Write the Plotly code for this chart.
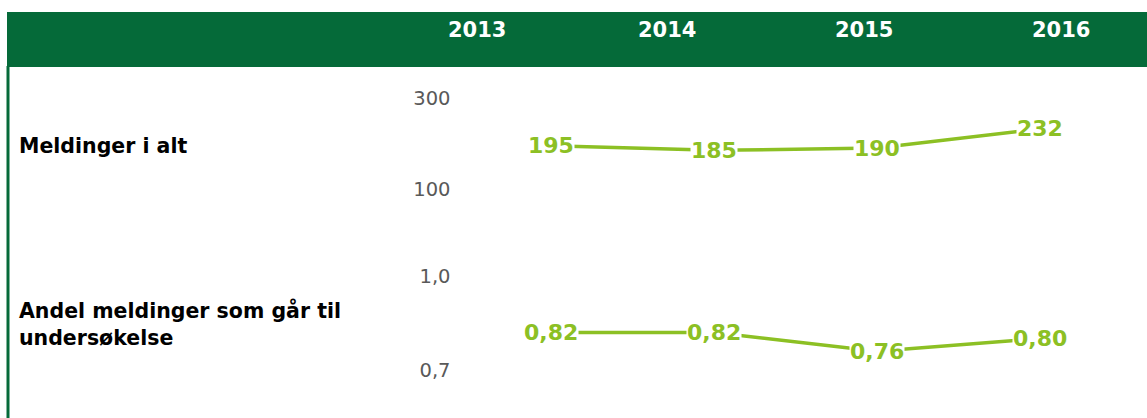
import plotly.graph_objects as go

years = ["2013", "2014", "2015", "2016"]
meldinger = [195, 185, 190, 232]
andel = [0.82, 0.82, 0.76, 0.80]
row_label_1 = ["Meldinger i alt"]
row_label_2 = ["Andel meldinger som går til", "undersøkelse"]
ticks_1 = [100, 300]
ticks_2 = [0.7, 1.0]

W, H = 1147, 418
GREEN_DARK = "#056a39"
GREEN_LINE = "#8cc024"
FONT = "DejaVu Sans"

def px_x(p):
    return p / W

def px_y(p):
    return (H - p) / H

xs = list(range(len(years)))

fig = go.Figure()
fig.add_trace(go.Scatter(x=xs, y=meldinger, mode="lines", xaxis="x", yaxis="y",
                         line=dict(color=GREEN_LINE, width=3.5), hoverinfo="skip",
                         showlegend=False))
fig.add_trace(go.Scatter(x=xs, y=andel, mode="lines", xaxis="x", yaxis="y2",
                         line=dict(color=GREEN_LINE, width=3.5), hoverinfo="skip",
                         showlegend=False))

annotations = []
for xi, v in zip(xs, meldinger):
    annotations.append(dict(x=xi, y=v, xref="x", yref="y", text=f"<b>{v}</b>",
                            showarrow=False, bgcolor="white", borderpad=0,
                            font=dict(family=FONT, size=22, color=GREEN_LINE)))
for xi, v in zip(xs, andel):
    annotations.append(dict(x=xi, y=v, xref="x", yref="y2",
                            text="<b>" + f"{v:.2f}".replace(".", ",") + "</b>",
                            showarrow=False, bgcolor="white", borderpad=0,
                            font=dict(family=FONT, size=22, color=GREEN_LINE)))

# header year labels
header_x = [477, 667, 864, 1061]
for hx, yr in zip(header_x, years):
    annotations.append(dict(x=px_x(hx), y=px_y(30), xref="paper", yref="paper",
                            text=f"<b>{yr}</b>", showarrow=False,
                            xanchor="center", yanchor="middle",
                            font=dict(family=FONT, size=21, color="white")))

# row labels
annotations.append(dict(x=px_x(17), y=px_y(146), xref="paper", yref="paper",
                        text=f"<b>{row_label_1[0]}</b>", showarrow=False,
                        xanchor="left", yanchor="middle",
                        font=dict(family=FONT, size=20.5, color="black")))
for i, line in enumerate(row_label_2):
    annotations.append(dict(x=px_x(17), y=px_y(310 + 28 * i), xref="paper", yref="paper",
                            text=f"<b>{line}</b>", showarrow=False,
                            xanchor="left", yanchor="middle",
                            font=dict(family=FONT, size=20.5, color="black")))

shapes = [
    dict(type="rect", xref="paper", yref="paper", x0=px_x(7), x1=1.0,
         y0=px_y(67), y1=px_y(12), fillcolor=GREEN_DARK, line=dict(width=0), layer="below"),
    dict(type="line", xref="paper", yref="paper", x0=px_x(8), x1=px_x(8),
         y0=0, y1=px_y(66), line=dict(color=GREEN_DARK, width=3)),
]

# x: point 0 at 551px, point 3 at 1040px -> 163 px/unit
ppu = 163.0
x0_px = 551 - 0.5 * ppu
x1_px = 551 + 3.5 * ppu

# top axis: 300 at y=98px, 100 at y=189px
top_ppu = (189 - 98) / 200.0
top_range = [50, 350]
top_top_px = 98 - (350 - 300) * top_ppu
top_bot_px = 189 + (100 - 50) * top_ppu
# bottom axis: 1.0 at 276px, 0.7 at 370px
bot_ppu = (370 - 276) / 0.3
bot_range = [0.6, 1.1]
bot_top_px = 276 - (1.1 - 1.0) * bot_ppu
bot_bot_px = 370 + (0.7 - 0.6) * bot_ppu

tickfont = dict(family=FONT, size=19.5, color="#595959")

fig.update_layout(
    width=W, height=H,
    margin=dict(l=0, r=0, t=0, b=0),
    paper_bgcolor="white", plot_bgcolor="white",
    separators=",.",
    showlegend=False,
    xaxis=dict(domain=[px_x(x0_px), px_x(x1_px)], range=[-0.5, 3.5],
               showgrid=False, zeroline=False, showticklabels=False, showline=False,
               fixedrange=True),
    yaxis=dict(domain=[px_y(top_bot_px), px_y(top_top_px)], range=top_range,
               tickvals=ticks_1, tickformat="d", showgrid=False, zeroline=False,
               showline=False, ticks="", tickfont=tickfont, ticklabelstandoff=18,
               anchor="x"),
    yaxis2=dict(domain=[px_y(bot_bot_px), px_y(bot_top_px)], range=bot_range,
                tickvals=ticks_2, tickformat=".1f", showgrid=False, zeroline=False,
                showline=False, ticks="", tickfont=tickfont, ticklabelstandoff=18,
                anchor="x"),
    annotations=annotations,
    shapes=shapes,
)

fig.write_html("out.html", config={"displayModeBar": False},
               post_script="document.body.style.margin='0';")
